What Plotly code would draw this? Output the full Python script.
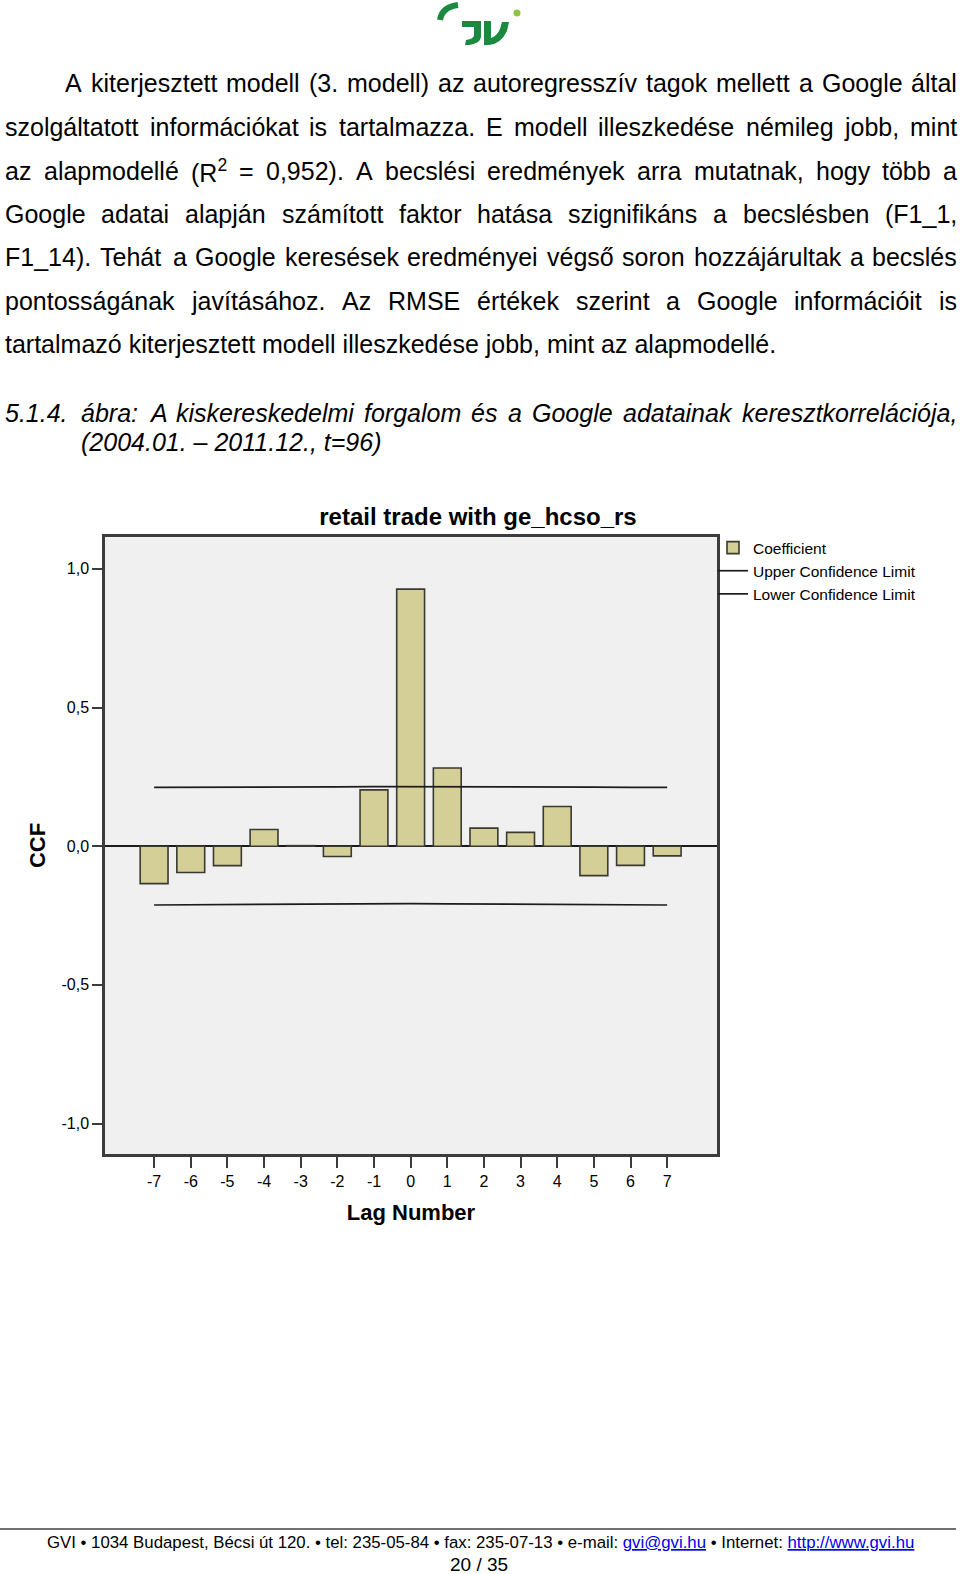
import re
import plotly.graph_objects as go

# ---------------- data ----------------
lags = [-7, -6, -5, -4, -3, -2, -1, 0, 1, 2, 3, 4, 5, 6, 7]
coefficient = [-0.135, -0.095, -0.070, 0.060, 0.002, -0.037, 0.203, 0.927,
               0.282, 0.065, 0.050, 0.143, -0.106, -0.069, -0.035]
upper_limit = [0.212, 0.212, 0.213, 0.213, 0.214, 0.214, 0.215, 0.215,
               0.215, 0.214, 0.214, 0.213, 0.213, 0.212, 0.212]
lower_limit = [-0.212, -0.211, -0.211, -0.210, -0.209, -0.209, -0.208, -0.207,
               -0.208, -0.209, -0.209, -0.210, -0.211, -0.211, -0.212]
x_tick_text = ["-7", "-6", "-5", "-4", "-3", "-2", "-1", "0", "1", "2", "3", "4", "5", "6", "7"]
y_tick_vals = [-1.0, -0.5, 0.0, 0.5, 1.0]
y_tick_text = ["-1,0", "-0,5", "0,0", "0,5", "1,0"]

chart_title = "retail trade with ge_hcso_rs"
x_title = "Lag Number"
y_title = "CCF"
series_names = ["Coefficient", "Upper Confidence Limit", "Lower Confidence Limit"]

paragraph_lines = [
    "A kiterjesztett modell (3. modell) az autoregresszív tagok mellett a Google által",
    "szolgáltatott információkat is tartalmazza. E modell illeszkedése némileg jobb, mint",
    "az alapmodellé (R<sup>2</sup> = 0,952). A becslési eredmények arra mutatnak, hogy több a",
    "Google adatai alapján számított faktor hatása szignifikáns a becslésben (F1_1,",
    "F1_14). Tehát a Google keresések eredményei végső soron hozzájárultak a becslés",
    "pontosságának javításához. Az RMSE értékek szerint a Google információit is",
    "tartalmazó kiterjesztett modell illeszkedése jobb, mint az alapmodellé.",
]
caption_number = "5.1.4."
caption_lines = [
    "ábra: A kiskereskedelmi forgalom és a Google adatainak keresztkorrelációja,",
    "(2004.01. – 2011.12., t=96)",
]
footer_text = ("GVI • 1034 Budapest, Bécsi út 120. • tel: 235-05-84 • fax: 235-07-13 • e-mail: "
               "<span style='color:#0000ee;text-decoration:underline'>gvi@gvi.hu</span> • Internet: "
               "<span style='color:#0000ee;text-decoration:underline'>http://www.gvi.hu</span>")
page_number = "20 / 35"

# ---------------- page geometry helpers ----------------
PW, PH = 960, 1574
FONT = "Liberation Sans, Arial, sans-serif"


def px(x):
    return x / PW


def py(y):
    return 1 - y / PH


# Arial / Liberation Sans advance widths (1/1000 em)
CW = {' ': 278, 'a': 556, 'b': 556, 'c': 500, 'd': 556, 'e': 556, 'f': 278, 'g': 556, 'h': 556,
      'i': 222, 'j': 222, 'k': 500, 'l': 222, 'm': 833, 'n': 556, 'o': 556, 'p': 556, 'q': 556,
      'r': 333, 's': 500, 't': 278, 'u': 556, 'v': 500, 'w': 722, 'x': 500, 'y': 500, 'z': 500,
      'A': 667, 'B': 667, 'C': 722, 'D': 722, 'E': 667, 'F': 611, 'G': 778, 'H': 722, 'I': 278,
      'J': 500, 'K': 667, 'L': 556, 'M': 833, 'N': 722, 'O': 778, 'P': 667, 'Q': 778, 'R': 722,
      'S': 667, 'T': 611, 'U': 722, 'V': 667, 'W': 944, 'X': 667, 'Y': 667, 'Z': 611,
      '.': 278, ',': 278, '(': 333, ')': 333, '_': 556, '=': 584, '-': 333, ':': 278, '/': 278,
      '–': 556, 'á': 556, 'é': 556, 'í': 278, 'ó': 556, 'ö': 556, 'ő': 556, 'ú': 556, 'ü': 556,
      'ű': 556, '@': 1015, '•': 350}


def text_width(s, fs):
    total = 0.0
    for part in re.split(r'(<sup>.*?</sup>)', s):
        if part.startswith('<sup>'):
            total += 0.7 * sum(CW.get(c, 556) for c in part[5:-6])
        else:
            total += sum(CW.get(c, 556) for c in part)
    return total * fs / 1000


fig = go.Figure()

# ---------------- chart traces ----------------
fig.add_trace(go.Bar(
    x=lags, y=coefficient, width=0.76, name=series_names[0],
    marker=dict(color="#d4cf97", line=dict(color="#3a3a32", width=1.6)),
))
fig.add_trace(go.Scatter(
    x=lags, y=upper_limit, mode="lines", name=series_names[1],
    line=dict(color="#1c1c1c", width=1.7),
))
fig.add_trace(go.Scatter(
    x=lags, y=lower_limit, mode="lines", name=series_names[2],
    line=dict(color="#1c1c1c", width=1.7),
))

annotations = []


def add_text(text, x, y, fs, xanchor="left", italic=False, bold=False, color="#000000"):
    t = text
    if italic:
        t = "<i>" + t + "</i>"
    if bold:
        t = "<b>" + t + "</b>"
    annotations.append(dict(
        text=t, x=px(x), y=py(y), xref="paper", yref="paper",
        xanchor=xanchor, yanchor="middle", showarrow=False, borderpad=0,
        font=dict(family=FONT, size=fs, color=color),
    ))


def place_line(line, x0, x1, y, fs, justify=True, italic=False):
    if not justify:
        add_text(line, x0, y, fs, italic=italic)
        return
    words = line.split(" ")
    widths = [text_width(w, fs) for w in words]
    gap = (x1 - x0 - sum(widths)) / (len(words) - 1)
    x = x0
    for w, wd in zip(words, widths):
        add_text(w, x, y, fs, italic=italic)
        x += wd + gap


# paragraph
TXT_FS = 25
para_y = [83.3, 127.5, 170.7, 213.9, 257.0, 301.2, 344.4]
for i, line in enumerate(paragraph_lines):
    x0 = 64.3 if i == 0 else 4.0
    place_line(line, x0, 956.0, para_y[i], TXT_FS, justify=(i < len(paragraph_lines) - 1))

# caption
add_text(caption_number, 4.0, 412.7, TXT_FS, italic=True)
place_line(caption_lines[0], 80.3, 956.0, 412.7, TXT_FS, justify=True, italic=True)
place_line(caption_lines[1], 80.3, 956.0, 441.8, TXT_FS, justify=False, italic=True)

# footer
annotations.append(dict(text=footer_text, x=px(480), y=py(1542), xref="paper", yref="paper",
                        xanchor="center", yanchor="middle", showarrow=False, borderpad=0,
                        font=dict(family=FONT, size=16.8, color="#000000")))
annotations.append(dict(text=page_number, x=px(479), y=py(1564), xref="paper", yref="paper",
                        xanchor="center", yanchor="middle", showarrow=False, borderpad=0,
                        font=dict(family=FONT, size=19, color="#000000")))


# ---------------- decorations (logo, footer rule) ----------------
def path(points_cmds):
    out = []
    for cmd in points_cmds:
        if isinstance(cmd, str):
            out.append(cmd)
        else:
            out.append(f"{px(cmd[0]):.5f},{py(cmd[1]):.5f}")
    return " ".join(out)


GREEN = "#1c8a3e"
shapes = [
    # footer rule
    dict(type="line", xref="paper", yref="paper", x0=0, x1=px(956), y0=py(1529), y1=py(1529),
         line=dict(color="#404040", width=1.3)),
    # logo arc
    dict(type="path", xref="paper", yref="paper",
         path=path(["M", (440, 20), "Q", (442, 7), (458, 5)]),
         line=dict(color=GREEN, width=6), fillcolor="rgba(0,0,0,0)"),
    # logo J
    dict(type="path", xref="paper", yref="paper",
         path=path(["M", (462, 21), "L", (481, 21), "L", (481, 37), "Q", (480, 44), (469, 45),
                    "L", (465, 45), "L", (466, 40), "Q", (474, 39), (474, 35), "L", (474, 27),
                    "L", (462, 27), "Z"]),
         line=dict(width=0), fillcolor=GREEN),
    # logo V
    dict(type="path", xref="paper", yref="paper",
         path=path(["M", (484, 21), "L", (491, 21), "L", (491, 38), "Q", (497, 36), (500, 29),
                    "L", (502, 22), "L", (509, 22), "L", (507, 31), "Q", (501, 44), (489, 45),
                    "L", (484, 45), "Z"]),
         line=dict(width=0), fillcolor=GREEN),
    # logo dot
    dict(type="circle", xref="paper", yref="paper", x0=px(513.5), x1=px(520.5), y0=py(16.5), y1=py(9.5),
         line=dict(width=0), fillcolor="#8cc63f"),
]

# ---------------- layout ----------------
AXC = "#3c3c3c"
fig.update_layout(
    width=PW, height=PH,
    margin=dict(l=0, r=0, t=0, b=0, pad=0),
    paper_bgcolor="#ffffff",
    plot_bgcolor="#f0f0f0",
    font=dict(family=FONT, color="#000000"),
    title=dict(text="<b>" + chart_title + "</b>", x=px(478), xref="paper", xanchor="center",
               y=py(517), yref="paper", yanchor="middle",
               font=dict(family=FONT, size=24, color="#000000")),
    bargap=0.24,
    showlegend=True,
    legend=dict(x=px(713), y=py(531), xanchor="left", yanchor="top", bgcolor="rgba(0,0,0,0)",
                font=dict(family=FONT, size=15.5, color="#000000"), tracegroupgap=0,
                itemwidth=30, traceorder="normal"),
    xaxis=dict(domain=[px(105), px(717)], range=[-8.34, 8.36], tickmode="array",
               tickvals=lags, ticktext=x_tick_text, ticks="outside", ticklen=11, tickwidth=2,
               tickcolor=AXC, showline=True, linecolor=AXC, linewidth=2.5, mirror=True,
               showgrid=False, zeroline=False, tickfont=dict(family=FONT, size=16),
               automargin=True,
               title=dict(text="<b>" + x_title + "</b>", standoff=16,
                          font=dict(family=FONT, size=22))),
    yaxis=dict(domain=[py(1154), py(537)], range=[-1.11, 1.115], tickmode="array",
               tickvals=y_tick_vals, ticktext=y_tick_text, ticks="outside", ticklen=10, tickwidth=2,
               tickcolor=AXC, showline=True, linecolor=AXC, linewidth=2.5, mirror=True,
               showgrid=False, zeroline=True, zerolinecolor="#1c1c1c", zerolinewidth=2,
               tickfont=dict(family=FONT, size=16), automargin=True,
               title=dict(text="<b>" + y_title + "</b>", standoff=10,
                          font=dict(family=FONT, size=22))),
    annotations=annotations,
    shapes=shapes,
)

fig.write_html("out.html")
